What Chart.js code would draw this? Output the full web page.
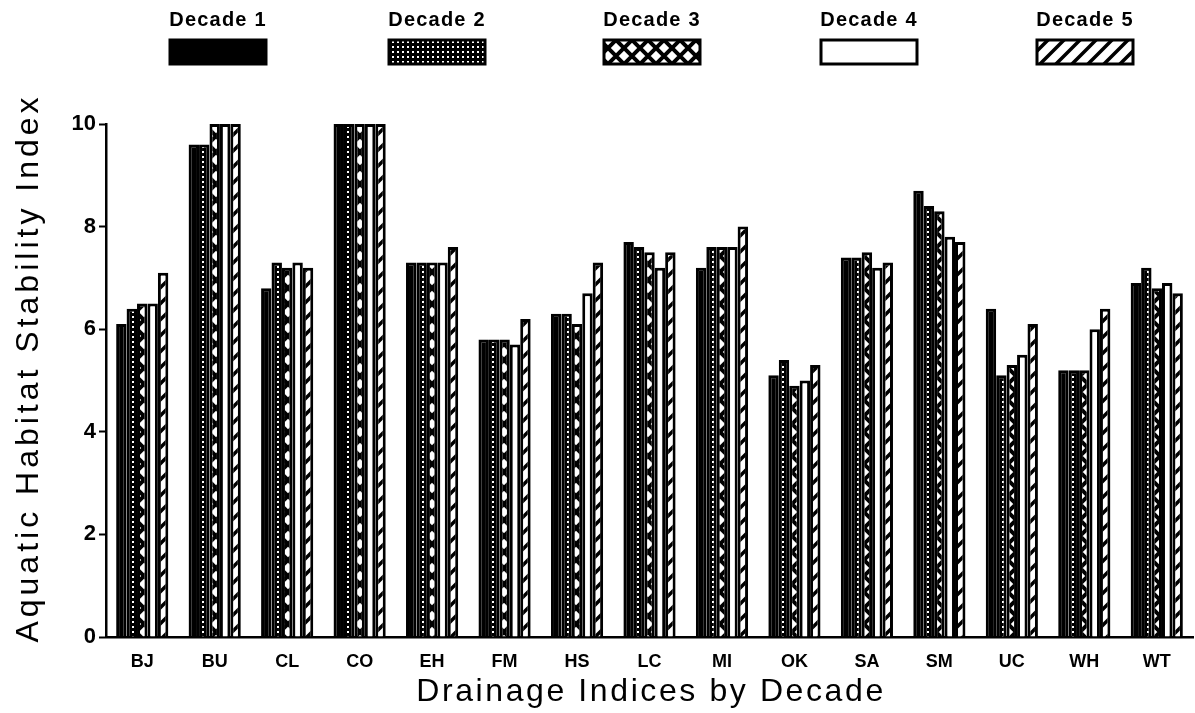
<!DOCTYPE html>
<html>
<head>
<meta charset="utf-8">
<title>Aquatic Habitat Stability Index</title>
<script src="https://cdn.jsdelivr.net/npm/chart.js@4.4.1/dist/chart.umd.min.js"></script>
<style>
  html, body { margin: 0; padding: 0; background: #fff; }
  #chart { display: block; }
</style>
</head>
<body>
<canvas id="chart" width="1195" height="713"></canvas>
<script>
// ===============================
// Dados
// ===============================
const drainages = ["BJ", "BU", "CL", "CO", "EH", "FM", "HS", "LC", "MI", "OK", "SA", "SM", "UC", "WH", "WT"];
const decadeNames = ["Decade 1", "Decade 2", "Decade 3", "Decade 4", "Decade 5"];

const decade1 = [6.1, 9.6, 6.8, 10, 7.3, 5.8, 6.3, 7.7, 7.2, 5.1, 7.4, 8.7, 6.4, 5.2, 6.9];
const decade2 = [6.4, 9.6, 7.3, 10, 7.3, 5.8, 6.3, 7.6, 7.6, 5.4, 7.4, 8.4, 5.1, 5.2, 7.2];
const decade3 = [6.5, 10, 7.2, 10, 7.3, 5.8, 6.1, 7.5, 7.6, 4.9, 7.5, 8.3, 5.3, 5.2, 6.8];
const decade4 = [6.5, 10, 7.3, 10, 7.3, 5.7, 6.7, 7.2, 7.6, 5.0, 7.2, 7.8, 5.5, 6.0, 6.9];
const decade5 = [7.1, 10, 7.2, 10, 7.6, 6.2, 7.3, 7.5, 8.0, 5.3, 7.3, 7.7, 6.1, 6.4, 6.7];

const yTicks = [0, 2, 4, 6, 8, 10];

const xTitle = "Drainage Indices by Decade";
const yTitle = "Aquatic Habitat Stability Index";

// ===============================
// Padrões de preenchimento
// ===============================
const makePattern = (kind) => {
  const tile = document.createElement("canvas");
  const c = tile.getContext("2d");

  if (kind === "solid") {
    return "#000";
  }
  if (kind === "open") {
    return "#fff";
  }
  if (kind === "dots") {
    tile.width = 5; tile.height = 5;
    c.fillStyle = "#000";
    c.fillRect(0, 0, 5, 5);
    c.fillStyle = "#fff";
    c.fillRect(2, 1, 2, 2);
  }
  if (kind === "cross") {
    tile.width = 16; tile.height = 16;
    c.fillStyle = "#fff";
    c.fillRect(0, 0, 16, 16);
    c.strokeStyle = "#000";
    c.lineWidth = 4;
    c.beginPath();
    c.moveTo(-2, -2); c.lineTo(18, 18);
    c.moveTo(18, -2); c.lineTo(-2, 18);
    c.stroke();
  }
  if (kind === "hatch") {
    tile.width = 16; tile.height = 16;
    c.fillStyle = "#fff";
    c.fillRect(0, 0, 16, 16);
    c.strokeStyle = "#000";
    c.lineWidth = 3.5;
    c.beginPath();
    c.moveTo(-4, 20); c.lineTo(20, -4);
    c.moveTo(-4, 4); c.lineTo(4, -4);
    c.moveTo(12, 20); c.lineTo(20, 12);
    c.stroke();
  }
  return c.createPattern(tile, "repeat");
};

const fills = [
  makePattern("solid"),
  makePattern("dots"),
  makePattern("cross"),
  makePattern("open"),
  makePattern("hatch")
];

const seriesValues = [decade1, decade2, decade3, decade4, decade5];

// ===============================
// Plugins: legenda e títulos
// ===============================
const legendCenters = [218, 437, 652, 869, 1085];

const topLegend = {
  id: "topLegend",
  afterDraw(chart) {
    const ctx = chart.ctx;
    ctx.save();
    ctx.font = "bold 20px 'Liberation Sans', Arial, sans-serif";
    ctx.letterSpacing = "1.2px";
    ctx.textAlign = "center";
    ctx.textBaseline = "alphabetic";
    ctx.fillStyle = "#000";
    decadeNames.forEach((name, i) => {
      const cx = legendCenters[i];
      ctx.fillText(name, cx, 26);
      ctx.fillStyle = fills[i];
      ctx.fillRect(cx - 48, 40, 96, 24);
      ctx.strokeStyle = "#000";
      ctx.lineWidth = 3;
      ctx.strokeRect(cx - 48, 40, 96, 24);
      ctx.fillStyle = "#000";
    });
    ctx.restore();
  }
};

const axisTitles = {
  id: "axisTitles",
  afterDraw(chart) {
    const ctx = chart.ctx;
    ctx.save();
    ctx.fillStyle = "#000";
    ctx.textAlign = "center";
    ctx.font = "32px 'Liberation Sans', Arial, sans-serif";

    ctx.letterSpacing = "2.6px";
    ctx.textBaseline = "alphabetic";
    ctx.fillText(xTitle, 651, 701);

    ctx.letterSpacing = "4px";
    ctx.textBaseline = "middle";
    ctx.translate(29, 368);
    ctx.rotate(-Math.PI / 2);
    ctx.fillText(yTitle, 0, 0);
    ctx.restore();
  }
};

// ===============================
// Gráfico
// ===============================
const ctx = document.getElementById("chart").getContext("2d");

new Chart(ctx, {
  type: "bar",
  data: {
    labels: drainages,
    datasets: decadeNames.map((name, i) => ({
      label: name,
      data: seriesValues[i],
      backgroundColor: fills[i],
      borderColor: "#000",
      borderWidth: 3,
      borderSkipped: "bottom",
      categoryPercentage: 0.72,
      barPercentage: 1.0
    }))
  },
  options: {
    responsive: false,
    animation: false,
    layout: { padding: { top: 124, right: 2, left: 0, bottom: 0 } },
    plugins: {
      legend: { display: false },
      tooltip: { enabled: false }
    },
    scales: {
      x: {
        grid: { display: false },
        border: { display: true, color: "#000", width: 2.5 },
        ticks: {
          color: "#000",
          autoSkip: false,
          maxRotation: 0,
          padding: 6,
          font: { family: "'Liberation Sans Narrow', 'Liberation Sans', Arial", size: 18, weight: "bold" }
        },
        afterFit: (s) => { s.height = 76; }
      },
      y: {
        min: 0,
        max: 10,
        afterBuildTicks: (s) => { s.ticks = yTicks.map(v => ({ value: v })); },
        grid: {
          drawOnChartArea: false,
          drawTicks: true,
          tickLength: 7,
          tickWidth: 2,
          tickColor: "#000"
        },
        border: { display: true, color: "#000", width: 2.5 },
        ticks: {
          color: "#000",
          padding: 3,
          font: { family: "'Liberation Sans', Arial", size: 22, weight: "bold" }
        },
        afterFit: (s) => { s.width = 106; }
      }
    }
  },
  plugins: [topLegend, axisTitles]
});
</script>
</body>
</html>
